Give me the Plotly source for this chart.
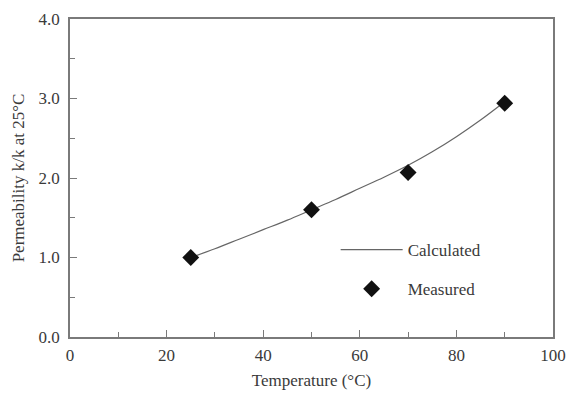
import plotly.graph_objects as go

# Data
calc_temp = [25, 30, 35, 40, 45, 50, 55, 60, 65, 70, 75, 80, 85, 90]
calc_perm = [1.00, 1.11, 1.23, 1.35, 1.47, 1.60, 1.73, 1.87, 2.01, 2.16, 2.33, 2.52, 2.73, 2.96]
meas_temp = [25, 50, 70, 90]
meas_perm = [1.00, 1.60, 2.07, 2.94]

FONT = "Liberation Serif"
TXT = "#3a3a3a"
AX = "#7a7a7a"

fig = go.Figure()
fig.add_trace(go.Scatter(x=calc_temp, y=calc_perm, mode="lines", name="Calculated",
                         legendgroup="a",
                         line=dict(color="#666666", width=1.2, shape="spline")))
fig.add_trace(go.Scatter(x=meas_temp, y=meas_perm, mode="markers", name="Measured",
                         legendgroup="b",
                         marker=dict(symbol="diamond", size=13, color="#111111")))

fig.update_layout(
    width=569, height=396,
    margin=dict(l=70, r=16, t=19, b=59, autoexpand=False),
    paper_bgcolor="white", plot_bgcolor="white",
    font=dict(family=FONT, size=17, color=TXT),
    legend=dict(x=0.55, y=0.33, xanchor="left", yanchor="top",
                bgcolor="rgba(0,0,0,0)", font=dict(family=FONT, size=17, color=TXT),
                itemwidth=62, traceorder="grouped", tracegroupgap=14),
    showlegend=True,
)
fig.update_xaxes(range=[0, 100], dtick=20, tick0=0, automargin=False,
                 showgrid=False, zeroline=False,
                 showline=True, linecolor=AX, linewidth=1.5, mirror=True,
                 ticks="inside", ticklen=7, tickcolor=AX, tickwidth=1,
                 minor=dict(dtick=10, ticks="inside", ticklen=5, tickcolor=AX),
                 tickfont=dict(family=FONT, size=17, color=TXT),
                 ticklabelstandoff=2,
                 title=dict(text="Temperature (°C)", font=dict(family=FONT, size=17, color=TXT), standoff=10))
fig.update_yaxes(range=[0, 4], dtick=1, tick0=0, tickformat=".1f", automargin=False,
                 showgrid=False, zeroline=False,
                 showline=True, linecolor=AX, linewidth=1.5, mirror=True,
                 ticks="inside", ticklen=7, tickcolor=AX, tickwidth=1,
                 minor=dict(dtick=0.5, ticks="inside", ticklen=5, tickcolor=AX),
                 tickfont=dict(family=FONT, size=17, color=TXT),
                 ticklabelstandoff=5,
                 title=dict(text="Permeability k/k at 25°C", font=dict(family=FONT, size=17, color=TXT), standoff=10))

fig.write_html("out.html")
